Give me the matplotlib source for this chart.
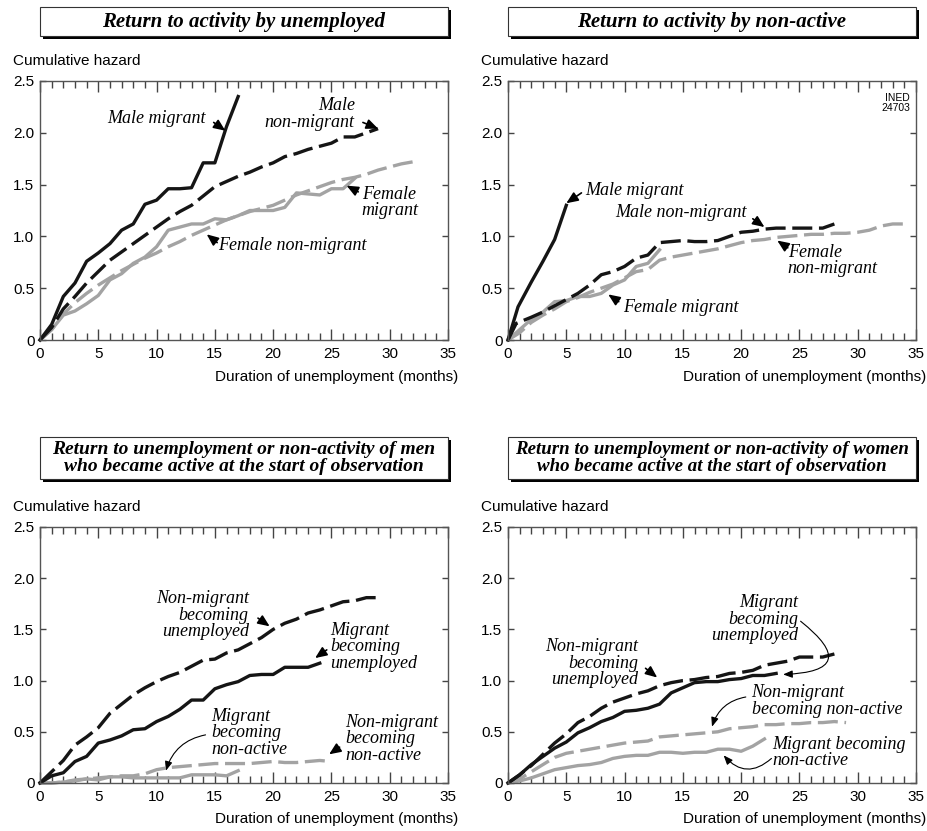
import numpy as np
import matplotlib.pyplot as plt
from matplotlib.patches import Rectangle
from matplotlib.ticker import MultipleLocator, FuncFormatter

# ---- data ----
# panel 1: return to activity by unemployed
p1_male_mig = [0, 0.15, 0.42, 0.55, 0.76, 0.84, 0.93, 1.06, 1.12, 1.31, 1.35, 1.46, 1.46, 1.47,
               1.71, 1.71, 2.06, 2.35]
p1_male_non = [0, 0.12, 0.30, 0.42, 0.55, 0.66, 0.77, 0.85, 0.93, 1.01, 1.09, 1.17, 1.24, 1.30,
               1.39, 1.48, 1.53, 1.58, 1.62, 1.67, 1.71, 1.77, 1.80, 1.84, 1.87, 1.90, 1.96, 1.96,
               2.00, 2.04]
p1_fem_mig = [0, 0.10, 0.24, 0.28, 0.35, 0.43, 0.58, 0.64, 0.74, 0.80, 0.90, 1.06, 1.09, 1.12,
              1.12, 1.17, 1.16, 1.20, 1.25, 1.25, 1.25, 1.28, 1.42, 1.41, 1.40, 1.46, 1.46, 1.56]
p1_fem_non = [0, 0.10, 0.25, 0.36, 0.45, 0.53, 0.60, 0.67, 0.73, 0.79, 0.84, 0.90, 0.95, 1.01,
              1.06, 1.11, 1.16, 1.20, 1.24, 1.27, 1.30, 1.35, 1.40, 1.44, 1.48, 1.52, 1.55, 1.57,
              1.60, 1.64, 1.67, 1.70, 1.72]

# panel 2: return to activity by non-active
p2_male_mig_x = [0, 0.86, 2, 3, 4, 5]
p2_male_mig = [0, 0.32, 0.56, 0.76, 0.97, 1.30]
p2_male_non_x = [0, 0.7] + list(range(2, 29))
p2_male_non = [0, 0.16, 0.22, 0.27, 0.33, 0.39, 0.45, 0.53, 0.63, 0.66, 0.71, 0.79, 0.82, 0.94,
               0.95, 0.96, 0.95, 0.95, 0.96, 1.00, 1.04, 1.05, 1.07, 1.08, 1.08, 1.08, 1.08, 1.08,
               1.12]
p2_fem_mig = [0, 0.10, 0.20, 0.27, 0.37, 0.38, 0.42, 0.42, 0.45, 0.53, 0.58, 0.71, 0.74, 0.87]
p2_fem_non = [0, 0.07, 0.17, 0.24, 0.30, 0.37, 0.41, 0.46, 0.50, 0.54, 0.60, 0.66, 0.68, 0.77,
              0.80, 0.82, 0.84, 0.86, 0.88, 0.91, 0.94, 0.96, 0.97, 0.99, 1.00, 1.01, 1.02, 1.02,
              1.03, 1.03, 1.04, 1.06, 1.10, 1.12, 1.12]

# panel 3: men who became active
p3_non_unemp = [0, 0.11, 0.22, 0.37, 0.45, 0.54, 0.68, 0.77, 0.86, 0.93, 0.99, 1.04, 1.08, 1.14,
                1.20, 1.21, 1.27, 1.30, 1.36, 1.42, 1.50, 1.56, 1.60, 1.66, 1.69, 1.73, 1.77,
                1.78, 1.81, 1.81]
p3_mig_unemp = [0, 0.07, 0.10, 0.21, 0.26, 0.39, 0.42, 0.46, 0.52, 0.53, 0.60, 0.65, 0.72, 0.81,
                0.81, 0.92, 0.96, 0.99, 1.05, 1.06, 1.06, 1.13, 1.13, 1.13, 1.17]
p3_non_inact = [0, 0.00, 0.01, 0.03, 0.04, 0.05, 0.06, 0.07, 0.07, 0.09, 0.13, 0.15, 0.16, 0.17,
                0.18, 0.19, 0.19, 0.19, 0.19, 0.20, 0.21, 0.20, 0.20, 0.21, 0.22, 0.21]
p3_mig_inact = [0, 0.00, 0.01, 0.02, 0.04, 0.03, 0.06, 0.06, 0.05, 0.05, 0.05, 0.05, 0.05, 0.08,
                0.08, 0.08, 0.07, 0.12]

# panel 4: women who became active
p4_non_unemp = [0, 0.08, 0.17, 0.28, 0.39, 0.48, 0.59, 0.65, 0.73, 0.79, 0.83, 0.87, 0.90, 0.95,
                0.98, 1.00, 1.01, 1.03, 1.04, 1.07, 1.08, 1.10, 1.15, 1.17, 1.19, 1.23, 1.23,
                1.23, 1.26]
p4_mig_unemp = [0, 0.08, 0.18, 0.26, 0.34, 0.40, 0.49, 0.54, 0.60, 0.64, 0.70, 0.71, 0.73, 0.77,
                0.88, 0.93, 0.98, 0.99, 0.99, 1.01, 1.02, 1.05, 1.05, 1.07]
p4_non_inact = [0, 0.04, 0.11, 0.18, 0.25, 0.29, 0.31, 0.33, 0.35, 0.37, 0.39, 0.40, 0.41, 0.45,
                0.46, 0.47, 0.48, 0.49, 0.50, 0.53, 0.54, 0.55, 0.57, 0.57, 0.58, 0.58, 0.59,
                0.59, 0.60, 0.59]
p4_mig_inact = [0, 0.02, 0.05, 0.09, 0.13, 0.15, 0.17, 0.18, 0.20, 0.24, 0.26, 0.27, 0.27, 0.30,
                0.30, 0.29, 0.30, 0.30, 0.33, 0.33, 0.31, 0.36, 0.43]

titles = ["Return to activity by unemployed",
          "Return to activity by non-active",
          "Return to unemployment or non-activity of men\nwho became active at the start of observation",
          "Return to unemployment or non-activity of women\nwho became active at the start of observation"]

BLACK = "#151515"
GREY = "#a3a3a3"
LW = 2.4
DASH = (6, 2)
SERIF = "Liberation Serif"
SANS = "Liberation Sans"

W, H = 927, 831
fig = plt.figure(figsize=(W / 100, H / 100), dpi=100)


def px_axes(x0, x1, ytop, ybot):
    return fig.add_axes([x0 / W, 1 - ybot / H, (x1 - x0) / W, (ybot - ytop) / H])


def title_box(x0, x1, ytop, ybot, text, size):
    # shadow first, then white box on top
    fig.patches.append(Rectangle(((x0 + 3) / W, 1 - (ybot + 3) / H), (x1 - x0) / W, (ybot - ytop) / H,
                                 transform=fig.transFigure, facecolor="black", edgecolor="none"))
    fig.patches.append(Rectangle((x0 / W, 1 - ybot / H), (x1 - x0) / W, (ybot - ytop) / H,
                                 transform=fig.transFigure, facecolor="white", edgecolor="#333333",
                                 lw=0.8))
    fig.text((x0 + x1) / 2 / W, 1 - (ytop + ybot) / 2 / H, text, ha="center", va="center",
             family=SERIF, style="italic", weight="bold", fontsize=size, linespacing=1.0)


def style_axes(ax):
    ax.set_xlim(0, 35)
    ax.set_ylim(0, 2.5)
    ax.xaxis.set_major_locator(MultipleLocator(5))
    ax.xaxis.set_minor_locator(MultipleLocator(1))
    ax.yaxis.set_major_locator(MultipleLocator(0.5))
    ax.yaxis.set_major_formatter(FuncFormatter(lambda v, p: "0" if v == 0 else f"{v:.1f}"))
    ax.tick_params(axis="x", which="major", direction="in", top=True, bottom=True, length=8,
                   width=1, color="#444444", pad=5, labelsize=11)
    ax.tick_params(axis="x", which="minor", direction="in", top=True, bottom=True, length=5,
                   width=1, color="#444444")
    ax.tick_params(axis="y", which="major", direction="in", left=True, right=True, length=4,
                   width=1, color="#444444", pad=4, labelsize=11)
    for lab in ax.get_xticklabels() + ax.get_yticklabels():
        lab.set_family(SANS)
    for s in ax.spines.values():
        s.set_color("#555555")
        s.set_linewidth(1.0)
    ax.text(-0.067, 1.078, "Cumulative hazard", transform=ax.transAxes, family=SANS,
            fontsize=11, ha="left", va="center")
    ax.set_xlabel("Duration of unemployment (months)", family=SANS, fontsize=11)
    ax.xaxis.set_label_coords(1.025, -0.115)
    ax.xaxis.label.set_ha("right")
    ax.xaxis.label.set_va("top")


def line(ax, x, y, color, dashed):
    if x is None:
        x = np.arange(len(y))
    ln, = ax.plot(x, y, color=color, lw=LW, solid_joinstyle="round", dash_capstyle="butt")
    if dashed:
        ln.set_dashes(DASH)
    ln.set_clip_on(False)
    return ln


def label(ax, text, xy_text, xy_arrow_from, xy_arrow_to, ha="left", rad=0.0, thin=False):
    ax.text(xy_text[0], xy_text[1], text, ha=ha, va="center", family=SERIF, style="italic",
            fontsize=13, linespacing=0.95)
    if thin:
        props = dict(arrowstyle="-|>,head_length=0.55,head_width=0.22", color="black", lw=0.8,
                     connectionstyle=f"arc3,rad={rad}", shrinkA=0, shrinkB=0)
    else:
        props = dict(arrowstyle="-|>,head_length=0.7,head_width=0.3", color="black", lw=1.2,
                     shrinkA=0, shrinkB=0)
    ax.annotate("", xy=xy_arrow_to, xytext=xy_arrow_from, arrowprops=props)


# ---- panel 1 ----
ax1 = px_axes(40, 448, 81, 340)
style_axes(ax1)
title_box(40, 448, 7, 36, titles[0], 15)
line(ax1, None, p1_fem_non, GREY, True)
line(ax1, None, p1_fem_mig, GREY, False)
line(ax1, None, p1_male_non, BLACK, True)
line(ax1, None, p1_male_mig, BLACK, False)
label(ax1, "Male migrant", (14.2, 2.14), (14.9, 2.10), (15.9, 2.02), ha="right")
label(ax1, "Male\nnon-migrant", (27.0, 2.18), (27.7, 2.10), (29.0, 2.04), ha="right")
label(ax1, "Female\nmigrant", (27.6, 1.33), (27.3, 1.43), (26.3, 1.49))
label(ax1, "Female non-migrant", (15.3, 0.91), (15.2, 0.94), (14.3, 1.02))

# ---- panel 2 ----
ax2 = px_axes(508, 916, 81, 340)
style_axes(ax2)
title_box(508, 916, 7, 36, titles[1], 15)
line(ax2, None, p2_fem_non, GREY, True)
line(ax2, None, p2_fem_mig, GREY, False)
line(ax2, p2_male_non_x, p2_male_non, BLACK, True)
line(ax2, p2_male_mig_x, p2_male_mig, BLACK, False)
label(ax2, "Male migrant", (6.6, 1.44), (6.3, 1.42), (5.0, 1.32))
label(ax2, "Male non-migrant", (9.2, 1.23), (21.0, 1.17), (22.0, 1.09))
label(ax2, "Female\nnon-migrant", (24.0, 0.77), (24.0, 0.89), (23.1, 0.96))
label(ax2, "Female migrant", (9.9, 0.31), (9.5, 0.37), (8.6, 0.44))
ax2.text(0.985, 0.955, "INED\n24703", transform=ax2.transAxes, ha="right", va="top",
         family=SANS, fontsize=7.5, linespacing=1.1, multialignment="right")

# ---- panel 3 ----
ax3 = px_axes(40, 448, 527, 783)
style_axes(ax3)
title_box(40, 448, 437, 479, titles[2], 14)
line(ax3, None, p3_non_inact, GREY, True)
line(ax3, None, p3_mig_inact, GREY, False)
line(ax3, None, p3_non_unemp, BLACK, True)
line(ax3, None, p3_mig_unemp, BLACK, False)
label(ax3, "Non-migrant\nbecoming\nunemployed", (17.9, 1.64), (18.7, 1.61), (19.7, 1.53), ha="right")
label(ax3, "Migrant\nbecoming\nunemployed", (24.9, 1.33), (24.6, 1.30), (23.6, 1.22))
label(ax3, "Migrant\nbecoming\nnon-active", (14.7, 0.49), (14.2, 0.47), (10.8, 0.12), rad=0.3,
      thin=True)
label(ax3, "Non-migrant\nbecoming\nnon-active", (26.2, 0.43), (25.7, 0.35), (24.8, 0.28))

# ---- panel 4 ----
ax4 = px_axes(508, 916, 527, 783)
style_axes(ax4)
title_box(508, 916, 437, 479, titles[3], 13.6)
line(ax4, None, p4_non_inact, GREY, True)
line(ax4, None, p4_mig_inact, GREY, False)
line(ax4, None, p4_non_unemp, BLACK, True)
line(ax4, None, p4_mig_unemp, BLACK, False)
label(ax4, "Migrant\nbecoming\nunemployed", (24.9, 1.60), (25.1, 1.58), (23.6, 1.06), ha="right",
      rad=-1.35, thin=True)
label(ax4, "Non-migrant\nbecoming\nunemployed", (11.2, 1.17), (11.8, 1.12), (12.8, 1.03), ha="right")
label(ax4, "Non-migrant\nbecoming non-active", (20.9, 0.80), (20.4, 0.84), (17.5, 0.55), rad=0.3,
      thin=True)
label(ax4, "Migrant becoming\nnon-active", (22.7, 0.30), (22.6, 0.24), (18.5, 0.27), rad=-0.5,
      thin=True)

fig.savefig("out.png", dpi=100)
